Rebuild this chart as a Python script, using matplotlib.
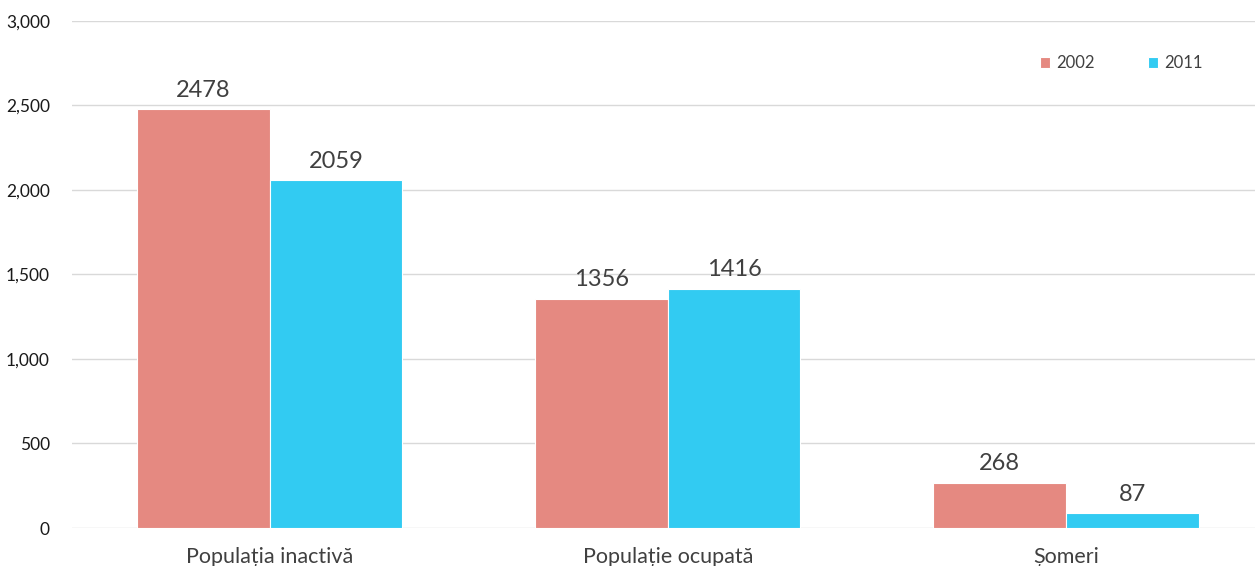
import matplotlib
matplotlib.use("Agg")
from matplotlib import pyplot as plt
import numpy as np

categories = ["Populația inactivă", "Populație ocupată", "Șomeri"]
years = ["2002", "2011"]
values_2002 = [2478, 1356, 268]
values_2011 = [2059, 1416, 87]

c2002 = "#E58981"
c2011 = "#32CBF2"
txt = "#404040"

plt.rcParams['font.family'] = ['Lato', 'DejaVu Sans']

fig = plt.figure(figsize=(12.55, 5.66), dpi=100)
ax = fig.add_axes([0.0574, 0.0671, 0.952, 0.896])

x = np.arange(len(categories))
w = 0.333
b1 = ax.bar(x - w / 2, values_2002, w, color=c2002, label=years[0], edgecolor="white", linewidth=0.8)
b2 = ax.bar(x + w / 2, values_2011, w, color=c2011, label=years[1], edgecolor="white", linewidth=0.8)

for bars in (b1, b2):
    for r in bars:
        ax.annotate(str(int(r.get_height())), (r.get_x() + r.get_width() / 2, r.get_height()),
                    xytext=(0, 6), textcoords="offset points", ha="center", va="bottom",
                    fontsize=17, color=txt)

ax.set_xlim(-0.496, 2.504)
ax.set_ylim(0, 3000)
ax.set_yticks(range(0, 3001, 500))
ax.set_yticklabels([f"{v:,}" for v in range(0, 3001, 500)], fontsize=12.5, color="#1a1a1a")
ax.set_xticks(x)
ax.set_xticklabels(categories, fontsize=15.5, color=txt)
ax.tick_params(axis="both", length=0)
ax.tick_params(axis="y", pad=16)
ax.tick_params(axis="x", pad=14)
ax.grid(axis="y", color="#D9D9D9", linewidth=1)
ax.set_axisbelow(True)
for s in ax.spines.values():
    s.set_visible(False)

ax.legend(loc="upper right", bbox_to_anchor=(0.959, 0.962), ncol=2, frameon=False,
          fontsize=12, handlelength=0.6, handleheight=0.6, columnspacing=3.15,
          handletextpad=0.4, labelcolor=txt)

fig.savefig("out.png", dpi=100)
